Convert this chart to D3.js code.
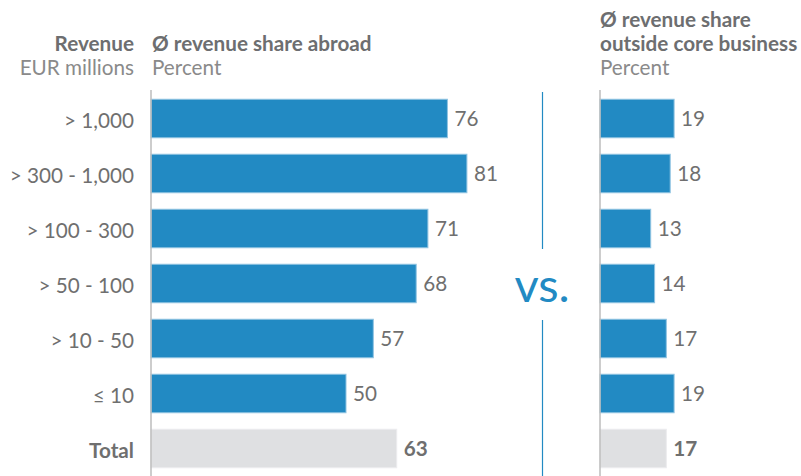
<!DOCTYPE html>
<html><head><meta charset="utf-8">
<script src="https://cdn.jsdelivr.net/npm/d3@7"></script>
<style>body{margin:0;background:#fff}svg{display:block;font-family:Lato,sans-serif}</style>
</head><body><svg id="c" width="801" height="476"></svg>
<script>
const categories = ["> 1,000", "> 300 - 1,000", "> 100 - 300", "> 50 - 100", "> 10 - 50", "≤ 10", "Total"];
const shareAbroad = [76, 81, 71, 68, 57, 50, 63];
const shareOutsideCore = [19, 18, 13, 14, 17, 19, 17];
const totalLabel = "Total";

const svg = d3.select("#c");
const blue = "#228ac3", grey = "#dfe0e2", txt = "#6f6f6f", hdr = "#6d6e70";
const fs = 20.7;

const y = d3.scaleBand().domain(categories).range([91, 476]).paddingInner(0.3).paddingOuter(0.15);
const xL = d3.scaleLinear().domain([0, 100]).range([151, 151 + 390]);
const xR = d3.scaleLinear().domain([0, 100]).range([600, 600 + 390]);

// headers
const h = svg.append("g").attr("font-size", fs);
h.append("text").attr("x", 134).attr("y", 51).attr("text-anchor", "end").attr("font-weight", 700).attr("fill", hdr).text("Revenue");
h.append("text").attr("x", 134).attr("y", 75).attr("text-anchor", "end").attr("fill", "#8a8a8a").text("EUR millions");
h.append("text").attr("x", 152).attr("y", 51).attr("font-weight", 700).attr("fill", hdr).text("Ø revenue share abroad");
h.append("text").attr("x", 152).attr("y", 75).attr("fill", "#8a8a8a").text("Percent");
h.append("text").attr("x", 600).attr("y", 27).attr("font-weight", 700).attr("fill", hdr).text("Ø revenue share");
h.append("text").attr("x", 600).attr("y", 51).attr("font-weight", 700).attr("fill", hdr).text("outside core business");
h.append("text").attr("x", 600).attr("y", 75).attr("fill", "#8a8a8a").text("Percent");

// category labels
svg.append("g").selectAll("text").data(categories).join("text")
  .attr("x", 134).attr("y", d => y(d) + y.bandwidth() / 2 + 2.5).attr("dy", "0.36em")
  .attr("text-anchor", "end").attr("font-size", fs)
  .attr("font-weight", d => d === totalLabel ? 700 : 400)
  .attr("fill", txt).text(d => d);

function panel(x, vals) {
  const g = svg.append("g");
  g.selectAll("rect").data(vals).join("rect")
    .attr("x", x(0)).attr("y", (d, i) => y(categories[i]))
    .attr("width", d => x(d) - x(0)).attr("height", y.bandwidth())
    .attr("fill", (d, i) => categories[i] === totalLabel ? grey : blue)
    .attr("stroke", (d, i) => categories[i] === totalLabel ? "#ececee" : "#8fc3e1").attr("stroke-width", 1);
  g.selectAll("text").data(vals).join("text")
    .attr("x", d => x(d) + 7).attr("y", (d, i) => y(categories[i]) + y.bandwidth() / 2).attr("dy", "0.36em")
    .attr("font-size", fs).attr("fill", txt)
    .attr("font-weight", (d, i) => categories[i] === totalLabel ? 700 : 400)
    .text(d => d);
  g.append("line").attr("x1", x(0)).attr("x2", x(0)).attr("y1", 90).attr("y2", 476)
    .attr("stroke", "#bdbdbd").attr("stroke-width", 1.5);
}
panel(xL, shareAbroad);
panel(xR, shareOutsideCore);

// vs divider
svg.append("line").attr("x1", 542.5).attr("x2", 542.5).attr("y1", 92).attr("y2", 249).attr("stroke", blue).attr("stroke-width", 1.2);
svg.append("line").attr("x1", 542.5).attr("x2", 542.5).attr("y1", 320).attr("y2", 476).attr("stroke", blue).attr("stroke-width", 1.2);
svg.append("text").attr("x", 542).attr("y", 302).attr("text-anchor", "middle")
  .attr("font-size", 47).attr("fill", blue).attr("font-weight", 400).text("vs.");
</script></body></html>
